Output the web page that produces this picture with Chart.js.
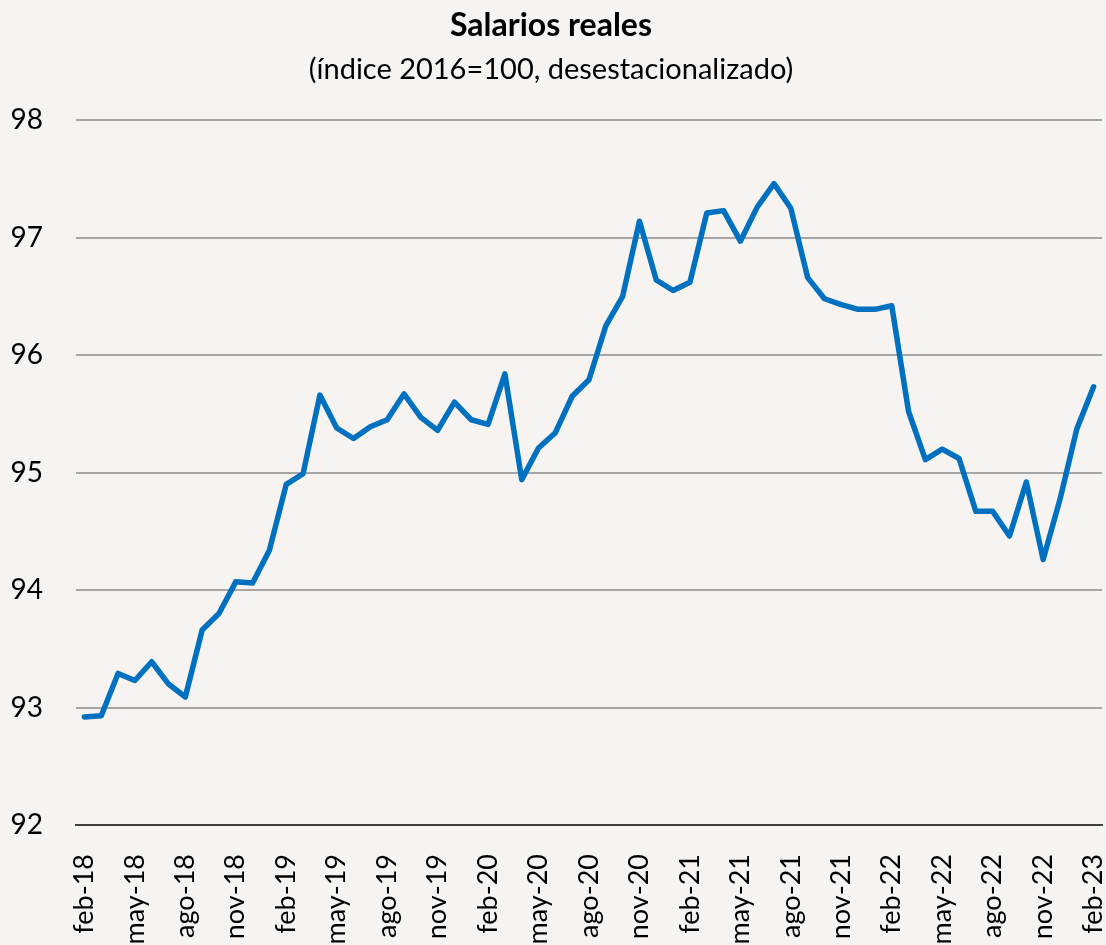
<!DOCTYPE html>
<html>
<head>
<meta charset="utf-8">
<script src="https://cdn.jsdelivr.net/npm/chart.js@4.4.1/dist/chart.umd.min.js"></script>
<style>
  html, body { margin: 0; padding: 0; background: #f6f3f0; }
  #wrap { width: 1106px; height: 945px; }
</style>
</head>
<body>
<div id="wrap"><canvas id="lineChart"></canvas></div>
<script>
// meses feb-18 .. feb-23
var meses = [
  "feb-18", "mar-18", "abr-18", "may-18", "jun-18", "jul-18", "ago-18", "sep-18", "oct-18", "nov-18", "dic-18",
  "ene-19", "feb-19", "mar-19", "abr-19", "may-19", "jun-19", "jul-19", "ago-19", "sep-19", "oct-19", "nov-19", "dic-19",
  "ene-20", "feb-20", "mar-20", "abr-20", "may-20", "jun-20", "jul-20", "ago-20", "sep-20", "oct-20", "nov-20", "dic-20",
  "ene-21", "feb-21", "mar-21", "abr-21", "may-21", "jun-21", "jul-21", "ago-21", "sep-21", "oct-21", "nov-21", "dic-21",
  "ene-22", "feb-22", "mar-22", "abr-22", "may-22", "jun-22", "jul-22", "ago-22", "sep-22", "oct-22", "nov-22", "dic-22",
  "ene-23", "feb-23"
];

var salarios = [
  92.92, 92.93, 93.29, 93.23, 93.39, 93.20, 93.09, 93.66, 93.80, 94.07,
  94.06, 94.34, 94.90, 94.99, 95.66, 95.38, 95.29, 95.39, 95.45, 95.67,
  95.47, 95.36, 95.60, 95.45, 95.41, 95.84, 94.94, 95.21, 95.34, 95.65,
  95.79, 96.25, 96.50, 97.14, 96.64, 96.55, 96.62, 97.21, 97.23, 96.97,
  97.26, 97.46, 97.25, 96.66, 96.48, 96.43, 96.39, 96.39, 96.42, 95.52,
  95.11, 95.20, 95.12, 94.67, 94.67, 94.46, 94.92, 94.26, 94.77, 95.37,
  95.73
];

var yTicks = [92, 93, 94, 95, 96, 97, 98];

var fuente = "Lato, 'Open Sans', sans-serif";

var ctxL = document.getElementById("lineChart").getContext('2d');
var myLineChart = new Chart(ctxL, {
  type: 'line',
  data: {
    labels: meses,
    datasets: [{
      label: "Salarios reales",
      data: salarios,
      borderColor: '#0070c0',
      backgroundColor: '#0070c0',
      borderWidth: 5.5,
      pointRadius: 0,
      tension: 0,
      borderJoinStyle: 'round',
      borderCapStyle: 'round'
    }]
  },
  options: {
    responsive: true,
    maintainAspectRatio: false,
    animation: false,
    layout: { padding: { left: 0, right: 4, top: 0, bottom: 0 } },
    plugins: {
      legend: { display: false },
      tooltip: { enabled: false },
      title: {
        display: true,
        text: 'Salarios reales',
        color: '#000',
        font: { family: fuente, size: 32, weight: 'bold' },
        padding: { top: 6, bottom: 4 }
      },
      subtitle: {
        display: true,
        text: '(índice 2016=100, desestacionalizado)',
        color: '#000',
        font: { family: fuente, size: 29 },
        padding: { top: 4, bottom: 33 }
      }
    },
    scales: {
      x: {
        offset: true,
        grid: { display: false, drawTicks: false },
        border: { display: true, color: '#404040', width: 2 },
        afterFit: function (scale) {
          scale.height = 120;
          scale.paddingLeft = 0;
          scale.paddingRight = 0;
        },
        ticks: {
          autoSkip: false,
          maxRotation: 90,
          minRotation: 90,
          padding: 29,
          color: '#000',
          font: { family: fuente, size: 27 },
          callback: function (val, i) {
            return i % 3 === 0 ? this.getLabelForValue(val) : '';
          }
        }
      },
      y: {
        min: 92,
        max: 98,
        afterFit: function (scale) { scale.width = 76; },
        afterBuildTicks: function (scale) {
          scale.ticks = yTicks.map(function (v) { return { value: v }; });
        },
        grid: { color: '#a6a6a6', lineWidth: 2, drawTicks: false },
        border: { display: false },
        ticks: {
          padding: 33,
          color: '#000',
          font: { family: fuente, size: 28 }
        }
      }
    }
  }
});
</script>
</body>
</html>
